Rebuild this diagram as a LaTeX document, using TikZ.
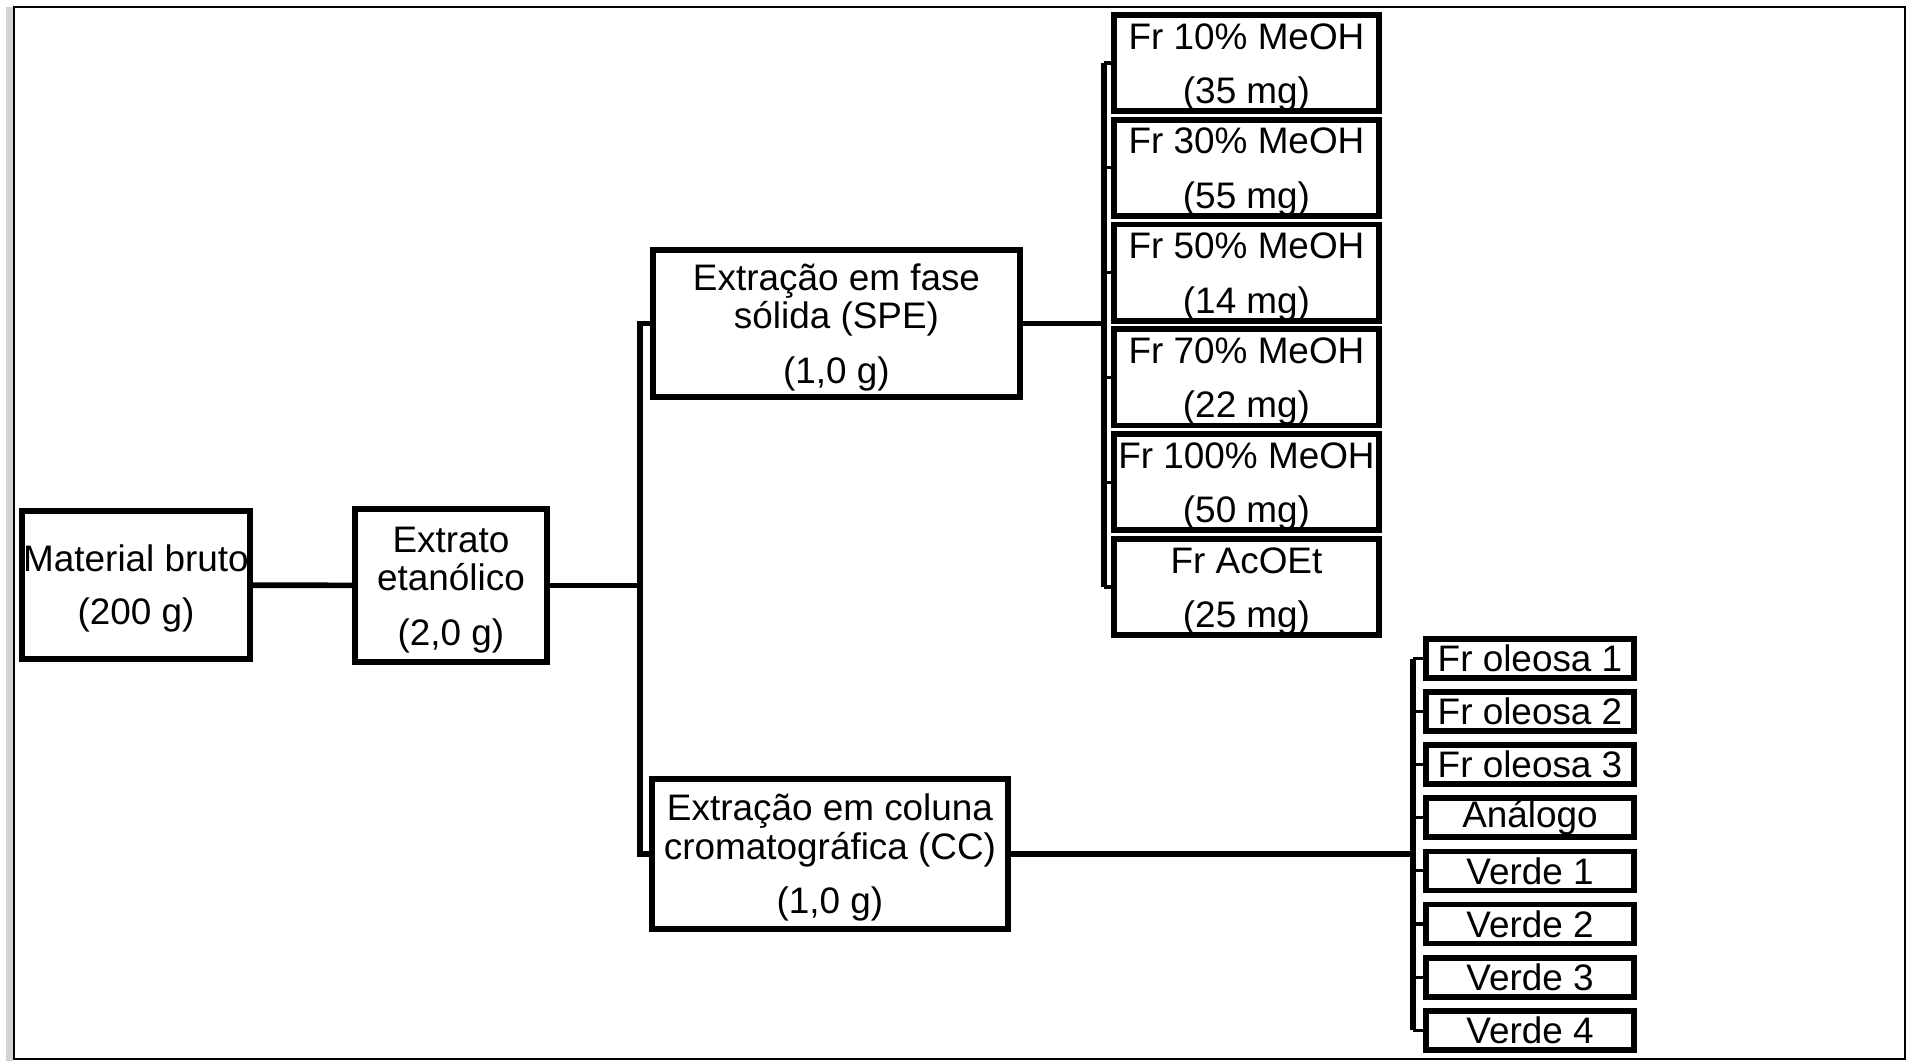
\documentclass[tikz,border=0pt]{standalone}
\usepackage{fontspec}
\setmainfont{Liberation Sans}
\usepackage{xcolor}
\usepackage{tikz}
\usetikzlibrary{positioning,calc}
\definecolor{framegray}{HTML}{D3D3D3}
\definecolor{ink}{HTML}{000000}
\newcommand{\topline}[1]{\raisebox{0pt}[19.5pt]{#1}}
\newcommand{\fracline}[2]{\topline{#1}\\[9pt]#2}

\begin{document}
\begin{tikzpicture}[
  x=0.02cm,y=-0.02cm,
  font=\fontsize{21}{22}\selectfont,
  box/.style={draw=ink,fill=white,line width=3.3pt,align=center,inner sep=0pt},
  frac/.style={box,minimum width=5.30cm,minimum height=1.78cm},
  oil/.style={box,minimum width=4.16cm,minimum height=0.78cm},
  link/.style={draw=ink,line width=3.2pt},
  tick/.style={draw=ink,line width=1.8pt}
]
\useasboundingbox (0,0) rectangle (1907,1061);
\fill[framegray] (6,7) rectangle (12.5,1061);
\draw[ink,line width=1.2pt] (14,7) rectangle (1905,1059);
\node[box,minimum width=4.56cm,minimum height=2.96cm] (mat) at (136,585) {\topline{Material bruto}\\[8pt](200 g)};
\node[box,minimum width=3.84cm,minimum height=3.06cm] (ext) at (451,585.5) {\topline{Extrato}\\etanólico\\[9pt](2,0 g)};
\node[box,minimum width=7.34cm,minimum height=2.94cm] (spe) at (836.5,323.5) {\topline{Extração em fase}\\sólida (SPE)\\[9pt](1,0 g)};
\node[box,minimum width=7.12cm,minimum height=3.00cm] (cc) at (830,854) {\topline{Extração em coluna}\\cromatográfica (CC)\\[9pt](1,0 g)};
% fracoes da SPE
\node[frac] (f1) at (1246.5,63) {\fracline{Fr 10\% MeOH}{(35 mg)}};
\node[frac] (f2) at (1246.5,167.8) {\fracline{Fr 30\% MeOH}{(55 mg)}};
\node[frac] (f3) at (1246.5,272.6) {\fracline{Fr 50\% MeOH}{(14 mg)}};
\node[frac] (f4) at (1246.5,377.4) {\fracline{Fr 70\% MeOH}{(22 mg)}};
\node[frac] (f5) at (1246.5,482.2) {\fracline{Fr 100\% MeOH}{(50 mg)}};
\node[frac] (f6) at (1246.5,587) {\fracline{Fr AcOEt}{(25 mg)}};
% fracoes da CC
\node[oil] (o1) at (1530,658.5) {Fr oleosa 1};
\node[oil] (o2) at (1530,711.6) {Fr oleosa 2};
\node[oil] (o3) at (1530,764.7) {Fr oleosa 3};
\node[oil] (o4) at (1530,817.8) {Análogo};
\node[oil] (o5) at (1530,870.9) {Verde 1};
\node[oil] (o6) at (1530,924) {Verde 2};
\node[oil] (o7) at (1530,977.1) {Verde 3};
\node[oil] (o8) at (1530,1030.2) {Verde 4};
% ligacoes
\coordinate (jA) at (640,585.5);
\coordinate (jB) at (1104,323.5);
\coordinate (jC) at (1413,854);
\draw[link] (mat) -- (ext); \draw[link] (ext) -- (jA);
\draw[link] (spe.west) -| (jA) |- (cc.west);
\draw[link] (spe) -- (jB); \draw[link] (f1.west -| jB) -- (f6.west -| jB);
\draw[tick] (f1.west -| jB) -- (f1.west); \draw[tick] (f2.west -| jB) -- (f2.west); \draw[tick] (f3.west -| jB) -- (f3.west);
\draw[tick] (f4.west -| jB) -- (f4.west); \draw[tick] (f5.west -| jB) -- (f5.west); \draw[tick] (f6.west -| jB) -- (f6.west);
\draw[link] (cc) -- (jC); \draw[link] (o1.west -| jC) -- (o8.west -| jC);
\draw[tick] (o1.west -| jC) -- (o1.west); \draw[tick] (o2.west -| jC) -- (o2.west); \draw[tick] (o3.west -| jC) -- (o3.west); \draw[tick] (o4.west -| jC) -- (o4.west);
\draw[tick] (o5.west -| jC) -- (o5.west); \draw[tick] (o6.west -| jC) -- (o6.west); \draw[tick] (o7.west -| jC) -- (o7.west); \draw[tick] (o8.west -| jC) -- (o8.west);
\end{tikzpicture}
\end{document}
